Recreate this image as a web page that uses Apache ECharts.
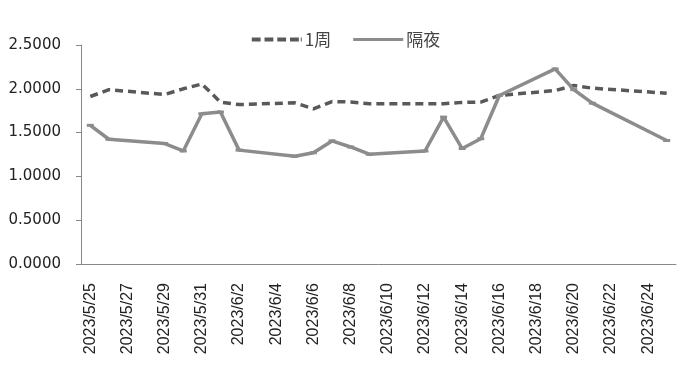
<!DOCTYPE html>
<html>
<head>
<meta charset="utf-8">
<script src="https://cdn.jsdelivr.net/npm/echarts@6/dist/echarts.min.js"></script>
<style>html,body{margin:0;padding:0;background:#fff;}#c{width:692px;height:372px;}</style>
</head>
<body>
<div id="c"></div>
<script>
var dates = ['2023/5/25','2023/5/26','2023/5/27','2023/5/28','2023/5/29','2023/5/30','2023/5/31',
  '2023/6/1','2023/6/2','2023/6/3','2023/6/4','2023/6/5','2023/6/6','2023/6/7','2023/6/8','2023/6/9',
  '2023/6/10','2023/6/11','2023/6/12','2023/6/13','2023/6/14','2023/6/15','2023/6/16','2023/6/17',
  '2023/6/18','2023/6/19','2023/6/20','2023/6/21','2023/6/22','2023/6/23','2023/6/24','2023/6/25'];
var week1 = [1.912,1.99,null,null,1.935,2.0,2.055,1.848,1.82,null,null,1.84,1.77,1.855,1.85,1.83,
  null,null,1.83,1.83,1.845,1.848,1.924,null,null,1.98,2.037,2.007,null,null,null,1.95];
var overnight = [1.583,1.424,null,null,1.375,1.29,1.715,1.735,1.30,null,null,1.23,1.27,1.405,1.336,1.253,
  null,null,1.29,1.677,1.318,1.43,1.924,null,null,2.227,1.99,1.836,null,null,null,1.41];
var yTicks = [0, 0.5, 1.0, 1.5, 2.0, 2.5];

var chart = echarts.init(document.getElementById('c'));
chart.setOption({
  animation: false,
  legend: {
    top: 26, left: 'center', itemWidth: 50, itemHeight: 6, itemGap: 22,
    textStyle: {fontSize: 17, color: '#444', fontFamily: 'Noto Sans CJK SC', padding: [0, 0, 0, -2]},
    data: [
      {name: '1周', icon: 'path://M0,1h9v4h-9zM13,1h9v4h-9zM26,1h9v4h-9zM39,1h9v4h-9zM50,1h1v4h-1zM0,0h0.1v0.1h-0.1zM0,5.9h0.1v0.1h-0.1z', itemStyle: {color: '#595959'}},
      {name: '隔夜', icon: 'path://M0,1.5h50v3h-50zM0,0h0.1v0.1h-0.1zM0,5.9h0.1v0.1h-0.1z', itemStyle: {color: '#8c8c8c'}}
    ]
  },
  grid: {left: 81, right: 16, top: 45, bottom: 108},
  xAxis: {
    type: 'category', data: dates, boundaryGap: true,
    axisLine: {lineStyle: {color: '#888', width: 1}},
    axisTick: {interval: 1, length: 5, lineStyle: {color: '#888'}},
    axisLabel: {interval: 1, rotate: 90, fontSize: 16, color: '#222', fontFamily: 'Liberation Sans', margin: 19}
  },
  yAxis: {
    type: 'value', min: 0, max: 2.5, interval: 0.5,
    splitLine: {show: false},
    axisLine: {show: true, lineStyle: {color: '#888', width: 1}},
    axisTick: {show: true, length: 5, lineStyle: {color: '#888'}},
    axisLabel: {fontSize: 15, color: '#222', fontFamily: 'DejaVu Sans', margin: 20,
      formatter: function (v) { return yTicks.indexOf(v) >= 0 ? v.toFixed(4) : ''; }}
  },
  series: [
    {
      name: '1周', type: 'line', data: week1, connectNulls: true, showSymbol: false, symbol: 'none',
      lineStyle: {color: '#595959', width: 3.5, type: [8, 5]}, itemStyle: {color: '#595959'}
    },
    {
      name: '隔夜', type: 'line', data: overnight, connectNulls: true,
      symbol: 'rect', symbolSize: [7, 3], showSymbol: true,
      lineStyle: {color: '#8c8c8c', width: 3.5}, itemStyle: {color: '#8c8c8c'}
    }
  ]
});
</script>
</body>
</html>
